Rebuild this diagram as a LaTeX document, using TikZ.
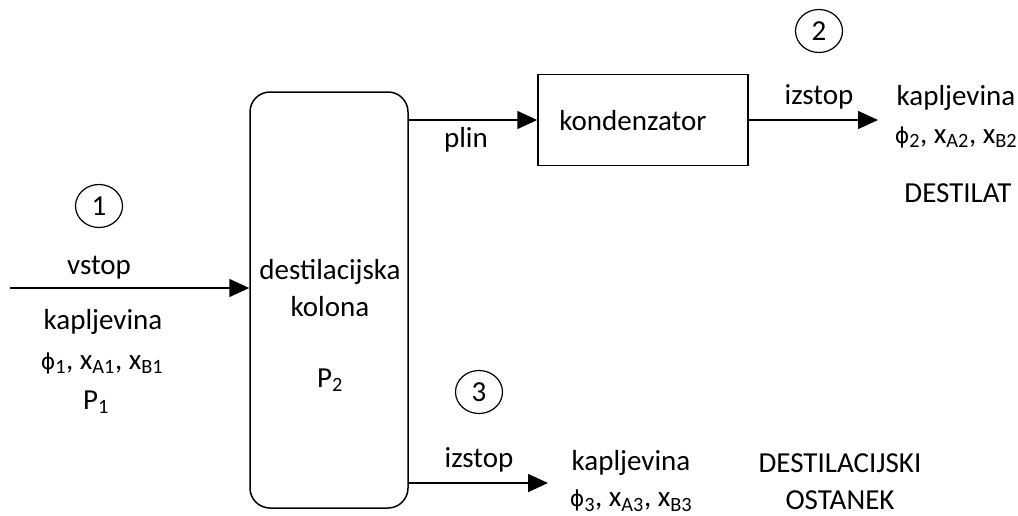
\documentclass[tikz,border=0pt]{standalone}
\usepackage{fontspec}
\setmainfont{Carlito}
\newfontfamily\simbol{DejaVu Sans}
\usetikzlibrary{arrows.meta,shapes.geometric}

\tikzset{
  tok/.style={line width=1.5pt,-{Triangle[length=20pt,width=18pt]}},
  aparat/.style={draw,line width=1.5pt},
  stevilka/.style={draw,ellipse,line width=1.2pt,minimum width=47pt,minimum height=43pt,inner sep=0pt,font=\fontsize{29}{35}\selectfont},
  napis/.style={inner sep=0pt,align=center,font=\fontsize{29}{37}\selectfont}
}
\newcommand{\sestava}[1]{{\simbol\fontsize{22}{26}\selectfont ϕ}\textsubscript{#1}, x\textsubscript{A#1}, x\textsubscript{B#1}}

\begin{document}
\begin{tikzpicture}[x=1pt,y=-1pt]
\useasboundingbox (0,0) rectangle (1018,515);
% destilacijska kolona in kondenzator
\node[aparat,rounded corners=20pt,minimum width=158pt,minimum height=416pt] (kolona) at (329,300) {};
\node[napis] (kolonanap) at (330,288) {destilacijska\\kolona};
\node[napis] (p2) at (330,380) {P\textsubscript{2}};
\node[aparat,minimum width=210pt,minimum height=91pt] (kond) at (643,120) {};
\node[napis] (kondnap) at (633,121) {kondenzator};

% vstop (1)
\coordinate (vhod) at (10,288);
\draw[tok] (vhod) -- (vhod -| kolona.west);
\node[stevilka] (tok1) at (99,206) {1};
\node[napis] (vstop) at (99,268) {vstop};
\node[napis] (kap1) at (103,322) {kapljevina};
\node[napis] (ses1) at (102,363) {\sestava{1}};
\node[napis] (p1) at (96,402) {P\textsubscript{1}};

% plin v kondenzator, izstop (2)
\draw[tok] (kolona.east |- kond.west) -- (kond.west);
\node[napis] (plin) at (466,140) {plin};
\coordinate (destilat) at (878,120);
\draw[tok] (kond.east) -- (destilat);
\node[stevilka] (tok2) at (819,31) {2};
\node[napis] (izstop2) at (819,97) {izstop};
\node[napis] (kap2) at (956,98) {kapljevina};
\node[napis] (ses2) at (956,137) {\sestava{2}};
\node[napis] (dest) at (958,193) {DESTILAT};

% izstop (3)
\coordinate (ostanek) at (548,483);
\draw[tok] (kolona.east |- ostanek) -- (ostanek);
\node[stevilka] (tok3) at (479,392) {3};
\node[napis] (izstop3) at (479,460) {izstop};
\node[napis] (kap3) at (631,463) {kapljevina};
\node[napis] (ses3) at (631,501) {\sestava{3}};
\node[napis] (ost) at (840,482) {DESTILACIJSKI\\OSTANEK};
\end{tikzpicture}
\end{document}
